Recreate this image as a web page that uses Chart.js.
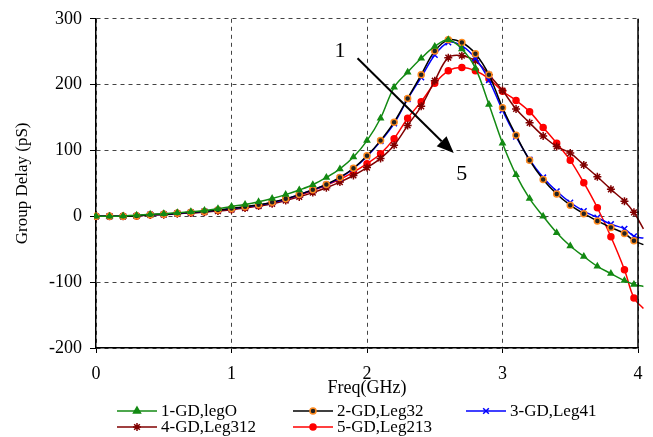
<!DOCTYPE html>
<html>
<head>
<meta charset="utf-8">
<script src="https://cdn.jsdelivr.net/npm/chart.js@4.4.0/dist/chart.umd.min.js"></script>
<style>
  html, body { margin: 0; padding: 0; background: #fff; }
  #wrap { width: 653px; height: 437px; }
</style>
</head>
<body>
<div id="wrap"><canvas id="gd"></canvas></div>
<script>
// frequency points (GHz); the last one only carries the line past the right edge
const freq = [0, 0.1, 0.2, 0.3, 0.4, 0.5, 0.6, 0.7, 0.8, 0.9,
  1.0, 1.1, 1.2, 1.3, 1.4, 1.5, 1.6, 1.7, 1.8, 1.9,
  2.0, 2.1, 2.2, 2.3, 2.4, 2.5, 2.6, 2.7, 2.8, 2.9,
  3.0, 3.1, 3.2, 3.3, 3.4, 3.5, 3.6, 3.7, 3.8, 3.9, 3.97, 4.04];

const gdLeg0 = [0, 0, 0.5, 1.5, 3, 4, 5.5, 7, 9, 11.5,
  15, 18, 22, 27, 33, 40, 48, 59, 72, 90,
  115, 149, 196, 219, 240, 258, 268, 254, 225, 170,
  111, 63, 27, 0, -25, -45, -61, -76, -87, -97.5, -103.5, -106.5];

const gdLeg32 = [0, 0, 0, 0.5, 2.5, 3, 4.5, 6, 7.5, 9.5,
  12, 14.5, 17.5, 21.5, 26.5, 33, 40.5, 48.5, 59, 73,
  92, 115, 143, 179, 215, 251, 268, 264, 247, 215,
  165, 123, 85, 56, 34, 17, 4, -7, -17, -26, -37, -43];

const gdLeg41 = [0, 0, 0, 0.5, 2.5, 3, 4.5, 6, 7.5, 9.5,
  11.5, 14, 17, 21, 26, 33, 40, 48, 58.5, 72.5,
  91, 114, 141, 178, 211, 245, 264, 259, 240, 207,
  161, 121, 86, 59, 38, 21, 8, -2, -12, -19, -30.5, -33];

const gdLeg312 = [0, 0, 0, 0.5, 2, 2.5, 4, 5, 6.5, 8,
  10, 12.5, 15.5, 19, 24, 29.5, 36, 43.5, 52, 62,
  74, 88, 108, 138, 167, 206, 241, 244, 236, 215,
  191, 163, 142, 122, 106, 96, 78, 60, 41, 23, 6, -19];

const gdLeg213 = [0, 0, 0, 0.5, 2.5, 3, 4.5, 5.5, 7, 9,
  11, 13.5, 16.5, 20.5, 25.5, 31.5, 39, 47, 56, 67,
  80, 95, 118, 149, 174, 202, 221, 226, 221, 209,
  190, 176, 159, 135, 111, 85, 51, 13, -31, -81, -124, -140];

const seriesNames = ['1-GD,legO', '2-GD,Leg32', '3-GD,Leg41', '4-GD,Leg312', '5-GD,Leg213'];
const xTicks = [0, 1, 2, 3, 4];
const yTicks = [-200, -100, 0, 100, 200, 300];

const FONT = '"Liberation Serif", "DejaVu Serif", serif';
const lastIdx = freq.length - 1;

function pts(vals) {
  return vals.map((v, i) => ({ x: freq[i], y: v }));
}

function ds(label, vals, color, style, bg, border, radius) {
  return {
    label: label,
    data: pts(vals),
    borderColor: color,
    borderWidth: 1.5,
    tension: 0.35,
    pointStyle: style,
    pointBackgroundColor: bg,
    pointBorderColor: border,
    pointBorderWidth: 1.5,
    pointRadius: c => c.dataIndex === lastIdx ? 0 : radius,
    clip: { left: 2, top: 2, right: 7, bottom: 2 }
  };
}

const datasets = [
  ds(seriesNames[0], gdLeg0, '#138a13', 'triangle', '#138a13', '#138a13', 3),
  ds(seriesNames[1], gdLeg32, '#000000', 'circle', '#222222', '#ff8a1e', 3),
  ds(seriesNames[2], gdLeg41, '#0000ff', 'crossRot', '#0000ff', '#0000ff', 4),
  ds(seriesNames[3], gdLeg312, '#800000', 'star', '#800000', '#800000', 4),
  ds(seriesNames[4], gdLeg213, '#ff0000', 'circle', '#ff0000', '#ff0000', 3)
];

// extra drawing: right frame line, the 1 -> 5 arrow, and the legend grid
const extras = {
  id: 'extras',
  afterDatasetsDraw(chart) {
    const { ctx, chartArea: a, scales: { x, y } } = chart;
    ctx.save();
    ctx.strokeStyle = '#000';
    ctx.lineWidth = 1.5;
    ctx.beginPath();
    ctx.moveTo(a.right, a.top);
    ctx.lineTo(a.right, a.bottom);
    ctx.stroke();

    // arrow, placed in data units
    const x0 = x.getPixelForValue(1.93), y0 = y.getPixelForValue(240);
    const x1 = x.getPixelForValue(2.64), y1 = y.getPixelForValue(96);
    const ang = Math.atan2(y1 - y0, x1 - x0);
    const hl = 17, hw = 7;
    const bx = x1 - hl * Math.cos(ang), by = y1 - hl * Math.sin(ang);
    ctx.lineWidth = 2;
    ctx.beginPath();
    ctx.moveTo(x0, y0);
    ctx.lineTo(bx, by);
    ctx.stroke();
    ctx.fillStyle = '#000';
    ctx.beginPath();
    ctx.moveTo(x1, y1);
    ctx.lineTo(bx + hw * Math.sin(ang), by - hw * Math.cos(ang));
    ctx.lineTo(bx - hw * Math.sin(ang), by + hw * Math.cos(ang));
    ctx.closePath();
    ctx.fill();

    ctx.font = '22px ' + FONT;
    ctx.textAlign = 'center';
    ctx.textBaseline = 'middle';
    ctx.fillText('1', x.getPixelForValue(1.80), y.getPixelForValue(251));
    ctx.fillText('5', x.getPixelForValue(2.70), y.getPixelForValue(64));

    // legend
    const cols = [117, 293, 466];
    const rows = [411, 427];
    ctx.font = '17px ' + FONT;
    ctx.textAlign = 'left';
    chart.data.datasets.forEach((d, i) => {
      const lx = cols[i % 3], ly = rows[Math.floor(i / 3)];
      const pt = {
        pointStyle: d.pointStyle,
        radius: d.pointStyle === 'circle' ? 3 : 4,
        borderWidth: 1.5,
        rotation: 0
      };
      ctx.strokeStyle = d.borderColor;
      ctx.lineWidth = 1.5;
      ctx.beginPath();
      ctx.moveTo(lx, ly);
      ctx.lineTo(lx + 40, ly);
      ctx.stroke();
      ctx.fillStyle = d.pointBackgroundColor;
      ctx.strokeStyle = d.pointBorderColor;
      Chart.helpers.drawPoint(ctx, pt, lx + 20, ly);
      ctx.fillStyle = '#000';
      ctx.fillText(d.label, lx + 44, ly + 1);
    });
    ctx.restore();
  }
};

new Chart(document.getElementById('gd'), {
  type: 'line',
  data: { datasets: datasets },
  plugins: [extras],
  options: {
    responsive: true,
    maintainAspectRatio: false,
    animation: false,
    layout: { padding: { left: 0, right: 15, top: 8, bottom: 38 } },
    plugins: { legend: { display: false }, tooltip: { enabled: false } },
    scales: {
      x: {
        type: 'linear',
        min: 0, max: 4,
        afterBuildTicks: s => { s.ticks = xTicks.map(v => ({ value: v })); },
        afterFit: s => { s.height = 51; },
        ticks: { color: '#000', font: { family: FONT, size: 18 }, padding: 10, maxRotation: 0 },
        grid: { color: '#444', lineWidth: 1, tickLength: 5, tickColor: '#000', tickBorderDash: [] },
        border: { color: '#000', width: 1.5, dash: [4, 4] },
        title: { display: true, text: 'Freq(GHz)', color: '#000', font: { family: FONT, size: 18 }, padding: 0 }
      },
      y: {
        min: -200, max: 300,
        afterBuildTicks: s => { s.ticks = yTicks.map(v => ({ value: v })); },
        afterFit: s => { s.width = 96; },
        ticks: { color: '#000', font: { family: FONT, size: 18 }, padding: 8 },
        grid: { color: '#444', lineWidth: 1, tickLength: 6, tickColor: '#000', tickBorderDash: [] },
        border: { color: '#000', width: 1.5, dash: [4, 4] },
        title: { display: true, text: 'Group Delay (pS)', color: '#000', font: { family: FONT, size: 17 }, padding: { top: 12 } }
      }
    }
  }
});
</script>
</body>
</html>
